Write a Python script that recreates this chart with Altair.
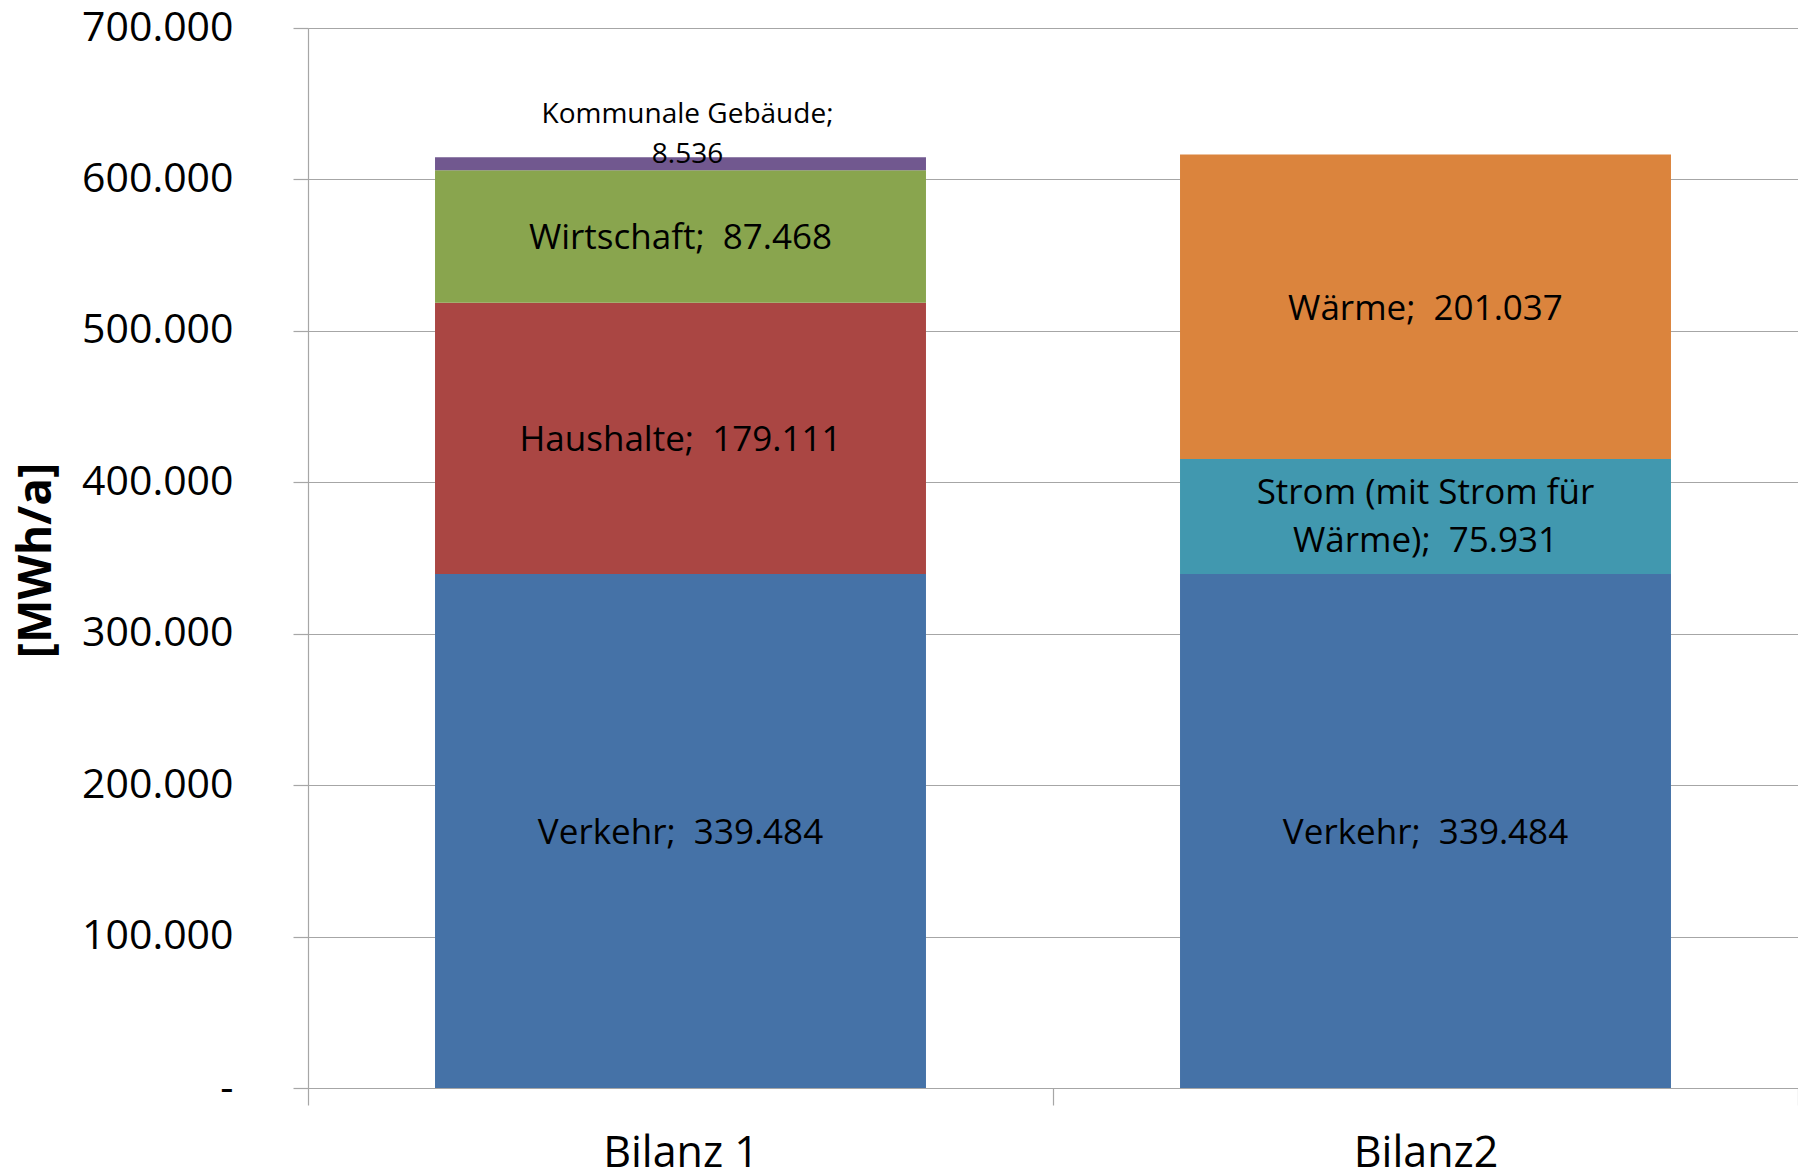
import altair as alt
import pandas as pd

bilanz = ["Bilanz 1", "Bilanz 1", "Bilanz 1", "Bilanz 1", "Bilanz2", "Bilanz2", "Bilanz2"]
sektor = ["Verkehr", "Haushalte", "Wirtschaft", "Kommunale Gebäude",
          "Verkehr", "Strom (mit Strom für Wärme)", "Wärme"]
sektor_label = ["Verkehr", "Haushalte", "Wirtschaft", "Kommunale Gebäude",
                "Verkehr", "Strom (mit Strom für\nWärme)", "Wärme"]
werte = [339484, 179111, 87468, 8536, 339484, 75931, 201037]
stapel = [0, 1, 2, 3, 0, 1, 2]

farb_domain = ["Verkehr", "Haushalte", "Wirtschaft", "Kommunale Gebäude",
               "Strom (mit Strom für Wärme)", "Wärme"]
farb_range = ["#4572A7", "#AA4643", "#89A54E", "#71588F", "#4198AF", "#DB843D"]

y_ticks = [0, 100000, 200000, 300000, 400000, 500000, 600000, 700000]


def de(v):
    return f"{v:,}".replace(",", ".")


labels = []
for s, v in zip(sektor_label, werte):
    if v < 20000:
        labels.append(f"{s};\n{de(v)}")
    else:
        labels.append(f"{s};\u00a0\u00a0{de(v)}")

df = pd.DataFrame({
    "bilanz": bilanz,
    "sektor": sektor,
    "wert": werte,
    "ord": stapel,
    "label": labels,
})
df["zeilen"] = df["label"].str.count("\n") + 1

FONT = "Open Sans"
GRAY = "#a6a6a6"

base = alt.Chart(df)

x_enc = alt.X("bilanz:N", title=None,
              scale=alt.Scale(paddingInner=0, paddingOuter=0),
              axis=alt.Axis(labelAngle=0, labelFont=FONT, labelFontSize=43,
                            labelColor="black", labelPadding=27,
                            tickBand="extent", tickSize=17, tickColor=GRAY,
                            domainColor=GRAY, domainWidth=1.2, tickWidth=1.2,
                            grid=False))

bars = base.mark_bar(stroke=None, width=alt.RelativeBandSize(0.659)).encode(
    x=x_enc,
    y=alt.Y("wert:Q", stack="zero", title="[MWh/a]",
            scale=alt.Scale(domain=[0, 700000], nice=False),
            axis=alt.Axis(values=y_ticks, labelFont=FONT, labelFontSize=41,
                          labelColor="black", labelPadding=60,
                          labelExpr="datum.value == 0 ? '-\u00a0\u00a0' : format(datum.value/1000, 'd') + '.000'",
                          tickSize=15, tickColor=GRAY, tickWidth=1.2,
                          domainColor=GRAY, domainWidth=1.2,
                          gridColor=GRAY, gridWidth=1.2,
                          titleFont=FONT, titleFontSize=46, titleFontWeight="bold",
                          titleColor="black", titleAngle=-90,
                          titleX=-272, titleY=532, titleAlign="center",
                          titleBaseline="middle")),
    color=alt.Color("sektor:N", legend=None,
                    scale=alt.Scale(domain=farb_domain, range=farb_range)),
    order=alt.Order("ord:Q"),
)

stacked = base.transform_stack(
    stack="wert", groupby=["bilanz"], sort=[alt.SortField("ord")], as_=["y0", "y1"]
).transform_calculate(
    mid="(datum.y0 + datum.y1) / 2"
)

text_style = dict(font=FONT, color="black", lineBreak="\n",
                  baseline="middle", align="center")

inner1 = stacked.transform_filter("datum.wert >= 20000 && datum.zeilen == 1").mark_text(
    fontSize=35, lineHeight=48, dy=2, **text_style
).encode(x="bilanz:N", y=alt.Y("mid:Q"), text="label:N")

inner2 = stacked.transform_filter("datum.wert >= 20000 && datum.zeilen == 2").mark_text(
    fontSize=35, lineHeight=48, dy=-23, **text_style
).encode(x="bilanz:N", y=alt.Y("mid:Q"), text="label:N")

outer = stacked.transform_filter("datum.wert < 20000").mark_text(
    fontSize=28, lineHeight=40, dy=-42, dx=7, **text_style
).encode(x="bilanz:N", y=alt.Y("y1:Q"), text="label:N")

chart = alt.layer(bars, inner1, inner2, outer).properties(
    width=1490, height=1060,
    autosize=alt.AutoSizeParams(type="none"),
    padding={"left": 300, "top": 20, "right": 0, "bottom": 86},
).configure_view(stroke=None).configure(background="white")

chart.save("out.html", embed_options={"renderer": "svg", "actions": False})
